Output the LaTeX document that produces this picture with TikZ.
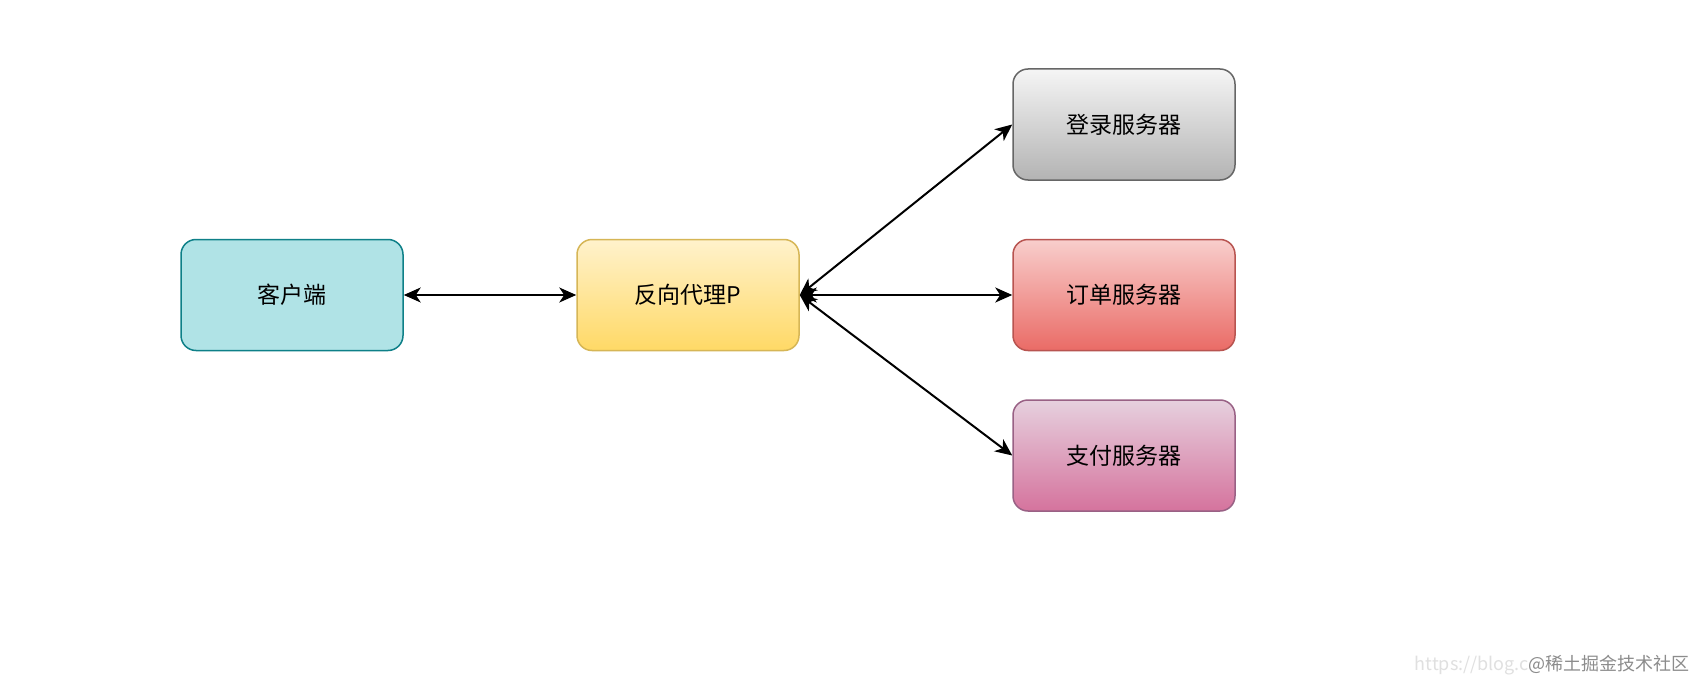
\documentclass[tikz,border=0pt]{standalone}
\usepackage{fontspec}
\setmainfont{Noto Sans CJK SC}
\newfontfamily\cjk{Noto Sans CJK SC}
\usetikzlibrary{arrows.meta}
\definecolor{cliFill}{HTML}{B0E3E6}
\definecolor{cliLine}{HTML}{0E8088}
\definecolor{pxTop}{HTML}{FFF2CC}
\definecolor{pxBot}{HTML}{FFD966}
\definecolor{pxLine}{HTML}{D6B656}
\definecolor{loTop}{HTML}{F5F5F5}
\definecolor{loBot}{HTML}{B3B3B3}
\definecolor{loLine}{HTML}{666666}
\definecolor{orTop}{HTML}{F8CECC}
\definecolor{orBot}{HTML}{EA6B66}
\definecolor{orLine}{HTML}{B85450}
\definecolor{paTop}{HTML}{E6D0DE}
\definecolor{paBot}{HTML}{D5739D}
\definecolor{paLine}{HTML}{996185}
\tikzset{
  box/.style={rounded corners=15pt, minimum width=222pt, minimum height=111pt,
    line width=1.5pt, font=\cjk\fontsize{23pt}{27pt}\selectfont, inner sep=0pt},
  link/.style={line width=2pt, {Stealth[length=17pt,width=15pt,inset=5pt]}-{Stealth[length=17pt,width=15pt,inset=5pt]}},
}
\begin{document}
\begin{tikzpicture}[x=1pt,y=-1pt]
\useasboundingbox[fill=white] (0,0) rectangle (1697,690);
\node[box, draw=cliLine, fill=cliFill] (cli) at (292,295) {客户端};
\node[box, draw=pxLine, top color=pxTop, bottom color=pxBot] (px) at (688,295) {反向代理P};
\node[box, draw=loLine, top color=loTop, bottom color=loBot] (lo) at (1124,124.5) {登录服务器};
\node[box, draw=orLine, top color=orTop, bottom color=orBot] (or) at (1124,295) {订单服务器};
\node[box, draw=paLine, top color=paTop, bottom color=paBot] (pa) at (1124,455.5) {支付服务器};
\draw[link] (cli.east) -- (px.west);
\draw[link] (px.east) -- (lo.west);
\draw[link] (px.east) -- (or.west);
\draw[link] (px.east) -- (pa.west);
\node[anchor=east, inner sep=0pt, font=\cjk\fontsize{18pt}{20pt}\selectfont] (wm) at (1690,665)
  {\textcolor{black!12}{https://blog.c}\textcolor{black!45}{@稀土掘金技术社区}};
\end{tikzpicture}
\end{document}
